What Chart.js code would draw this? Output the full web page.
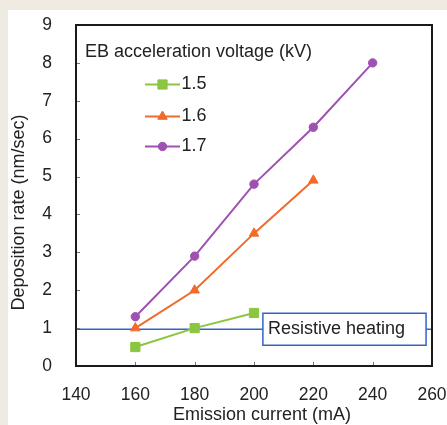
<!DOCTYPE html>
<html>
<head>
<meta charset="utf-8">
<script src="https://cdn.jsdelivr.net/npm/chart.js@4/dist/chart.umd.min.js"></script>
<style>
  html, body { margin: 0; padding: 0; width: 447px; height: 425px; overflow: hidden; background: #efebe2; }
  #panel { position: absolute; left: 8px; top: 10px; width: 439px; height: 415px; background: #ffffff; }
  canvas { display: block; }
</style>
</head>
<body>
<div id="panel"><canvas id="chart" width="439" height="415"></canvas></div>
<script>
// Deposition rate vs. emission current for three EB acceleration voltages
const currents = [160, 180, 200, 220, 240];          // mA
const rate15 = [0.5, 1.0, 1.4];                       // 1.5 kV
const rate16 = [1.0, 2.0, 3.5, 4.9];                  // 1.6 kV
const rate17 = [1.3, 2.9, 4.8, 6.3, 8.0];             // 1.7 kV
const seriesLabels = ['1.5', '1.6', '1.7'];
const legendTitle = 'EB acceleration voltage (kV)';
const resistiveRate = 0.97;                           // nm/sec, resistive heating reference
const resistiveLabel = 'Resistive heating';
const xTicks = [140, 160, 180, 200, 220, 240, 260];
const yTicks = [0, 1, 2, 3, 4, 5, 6, 7, 8, 9];
const xTitle = 'Emission current (mA)';
const yTitle = 'Deposition rate (nm/sec)';

const FONT = "'Liberation Sans', Arial, sans-serif";
const TEXT = '#222222';
const GREEN = '#8cc540';
const ORANGE = '#f26a2b';
const PURPLE = '#9f51b2';
const BLUE = '#3564c4';

const toPoints = vals => vals.map((v, i) => ({ x: currents[i], y: v }));

const datasets = [
  { label: seriesLabels[0], data: toPoints(rate15), borderColor: GREEN, backgroundColor: GREEN,
    pointStyle: 'rect', pointRadius: 6.5, pointBorderWidth: 1 },
  { label: seriesLabels[1], data: toPoints(rate16), borderColor: ORANGE, backgroundColor: ORANGE,
    pointStyle: 'triangle', pointRadius: 5.5, pointBorderWidth: 1 },
  { label: seriesLabels[2], data: toPoints(rate17), borderColor: PURPLE, backgroundColor: PURPLE,
    pointStyle: 'circle', pointRadius: 4.2, pointBorderWidth: 1 },
  { label: resistiveLabel,
    data: [{ x: xTicks[0], y: resistiveRate }, { x: xTicks[xTicks.length - 1], y: resistiveRate }],
    borderColor: BLUE, backgroundColor: BLUE, borderWidth: 1.5, pointRadius: 0 }
].map(d => Object.assign({ borderWidth: 2, tension: 0, fill: false }, d));

function marker(ctx, ds, cx, cy) {
  ctx.fillStyle = ds.backgroundColor;
  ctx.strokeStyle = ds.borderColor;
  ctx.lineWidth = ds.pointBorderWidth;
  Chart.helpers.drawPoint(ctx, {
    pointStyle: ds.pointStyle, radius: ds.pointRadius, rotation: 0, borderWidth: ds.pointBorderWidth
  }, cx, cy);
}

// Frame, inner tick marks, legend, reference label and axis titles
const decor = {
  id: 'decor',
  afterDatasetsDraw(chart) {
    const { ctx, chartArea: a, scales: { x, y } } = chart;
    ctx.save();

    // label box on the resistive heating line
    const ly = y.getPixelForValue(resistiveRate);
    const bx0 = x.getPixelForValue(203), bx1 = x.getPixelForValue(258);
    ctx.fillStyle = '#ffffff';
    ctx.fillRect(bx0, ly - 16, bx1 - bx0, 32);
    ctx.strokeStyle = BLUE;
    ctx.lineWidth = 1.5;
    ctx.strokeRect(bx0, ly - 16, bx1 - bx0, 32);
    ctx.fillStyle = TEXT;
    ctx.font = `18px ${FONT}`;
    ctx.textAlign = 'left';
    ctx.textBaseline = 'middle';
    ctx.fillText(resistiveLabel, bx0 + 5, ly);

    // inner tick marks
    ctx.strokeStyle = '#777777';
    ctx.lineWidth = 1;
    ctx.beginPath();
    xTicks.forEach(v => {
      const px = Math.round(x.getPixelForValue(v)) + 0.5;
      ctx.moveTo(px, a.bottom); ctx.lineTo(px, a.bottom - 4);
    });
    yTicks.forEach(v => {
      const py = Math.round(y.getPixelForValue(v)) + 0.5;
      ctx.moveTo(a.left, py); ctx.lineTo(a.left + 4, py);
    });
    ctx.stroke();

    // plot frame
    ctx.strokeStyle = '#1a1a1a';
    ctx.lineWidth = 2;
    ctx.strokeRect(a.left, a.top, a.right - a.left, a.bottom - a.top);

    // legend
    ctx.fillStyle = TEXT;
    ctx.font = `18px ${FONT}`;
    ctx.textAlign = 'left';
    ctx.textBaseline = 'middle';
    ctx.fillText(legendTitle, a.left + 9, a.top + 27);
    const rows = [59.5, 91.5, 121.5];
    for (let i = 0; i < 3; i++) {
      const ds = chart.data.datasets[i];
      const ry = a.top + rows[i];
      ctx.strokeStyle = ds.borderColor;
      ctx.lineWidth = 2;
      ctx.beginPath();
      ctx.moveTo(a.left + 69, ry); ctx.lineTo(a.left + 104, ry);
      ctx.stroke();
      marker(ctx, ds, a.left + 86.5, ry);
      ctx.fillStyle = TEXT;
      ctx.fillText(ds.label, a.left + 105.5, ry);
    }

    // axis titles
    ctx.fillStyle = TEXT;
    ctx.font = `18px ${FONT}`;
    ctx.textAlign = 'center';
    ctx.textBaseline = 'middle';
    ctx.fillText(xTitle, (a.left + a.right) / 2 + 8, a.bottom + 49);
    ctx.save();
    ctx.translate(a.left - 57, (a.top + a.bottom) / 2 + 17);
    ctx.rotate(-Math.PI / 2);
    ctx.fillText(yTitle, 0, 0);
    ctx.restore();

    ctx.restore();
  }
};

new Chart(document.getElementById('chart'), {
  type: 'line',
  data: { datasets },
  options: {
    responsive: false,
    animation: false,
    events: [],
    layout: { padding: { left: 0, right: 15, top: 15, bottom: 0 } },
    plugins: { legend: { display: false }, tooltip: { enabled: false } },
    scales: {
      x: {
        type: 'linear',
        min: xTicks[0], max: xTicks[xTicks.length - 1],
        afterBuildTicks: s => { s.ticks = xTicks.map(v => ({ value: v })); },
        grid: { display: false }, border: { display: false },
        ticks: { font: { family: FONT, size: 17.5 }, color: TEXT, padding: 11, maxRotation: 0, autoSkip: false },
        afterFit: s => { s.height = 59; s.paddingLeft = 0; s.paddingRight = 0; }
      },
      y: {
        type: 'linear',
        min: yTicks[0], max: yTicks[yTicks.length - 1],
        afterBuildTicks: s => { s.ticks = yTicks.map(v => ({ value: v })); },
        grid: { display: false }, border: { display: false },
        ticks: { font: { family: FONT, size: 17.5 }, color: TEXT, padding: 16 },
        afterFit: s => { s.width = 68; s.paddingTop = 0; s.paddingBottom = 0; }
      }
    }
  },
  plugins: [decor]
});
</script>
</body>
</html>
